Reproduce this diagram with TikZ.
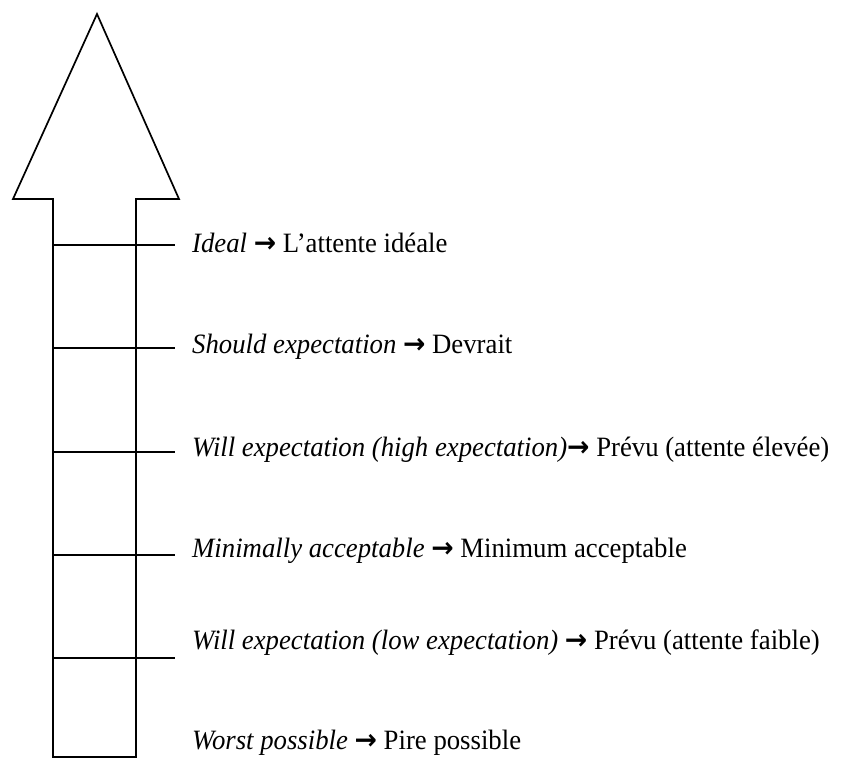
\documentclass[tikz,border=0pt]{standalone}
\usepackage{fontspec}
\setmainfont{Liberation Serif}
\newfontfamily\arrfont{DejaVu Sans}
\newcommand{\myarr}{{\arrfont\bfseries →}}
\begin{document}
\begin{tikzpicture}[x=1pt,y=-1pt,
  outline/.style={draw=black,line width=1.7pt,line join=miter},
  tick/.style={draw=black,line width=1.5pt},
  lab/.style={anchor=west,inner sep=0pt,font=\fontsize{28}{30}\selectfont,text height=19pt,text depth=6pt}]
\useasboundingbox (0,0) rectangle (841,760);
% arrow outline
\draw[outline] (53,757) -- (53,199) -- (13,199) -- (97,14) -- (179,199) -- (136,199) -- (136,757) -- cycle;
% levels
\foreach \n/\y in {a/245,b/348,c/452,d/555,e/658}{
  \coordinate (l\n) at (53,\y);
  \coordinate (r\n) at (175,\y);
  \draw[tick] (l\n) -- (r\n);
}
\node[lab] (t1) at (192,246) {\scalebox{0.955}[1]{\textit{Ideal} \myarr{} L’attente idéale}};
\node[lab] (t2) at (192,347) {\scalebox{0.955}[1]{\textit{Should expectation} \myarr{} Devrait}};
\node[lab] (t3) at (192,450) {\scalebox{0.955}[1]{\textit{Will expectation (high expectation)}\myarr{} Prévu (attente élevée)}};
\node[lab] (t4) at (192,551) {\scalebox{0.955}[1]{\textit{Minimally acceptable} \myarr{} Minimum acceptable}};
\node[lab] (t5) at (192,643) {\scalebox{0.955}[1]{\textit{Will expectation (low expectation)} \myarr{} Prévu (attente faible)}};
\node[lab] (t6) at (192,743) {\scalebox{0.955}[1]{\textit{Worst possible} \myarr{} Pire possible}};
\end{tikzpicture}
\end{document}
